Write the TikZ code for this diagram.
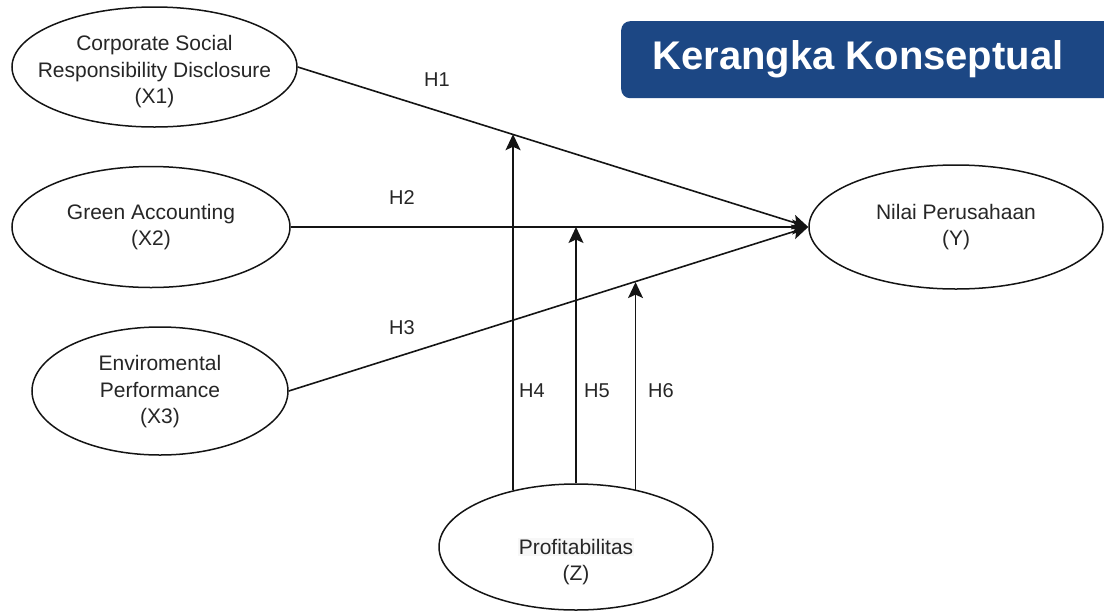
\documentclass[tikz,border=0pt]{standalone}
\usepackage{fontspec}
\setmainfont{Liberation Sans}
\usetikzlibrary{shapes.geometric,arrows.meta,calc}
\definecolor{kblue}{RGB}{28,71,132}
\definecolor{txtgray}{RGB}{38,38,38}
\definecolor{linegray}{RGB}{20,20,20}
\definecolor{labelbg}{RGB}{247,247,247}
\begin{document}
\begin{tikzpicture}[x=1pt,y=-1pt,
  var/.style={ellipse,draw=linegray,line width=1.5pt,inner sep=0pt,fill=white},
  vtext/.style={text=txtgray,align=center,font=\fontsize{21}{26.5}\selectfont,inner sep=0pt},
  hlabel/.style={text=txtgray,font=\fontsize{20}{24}\selectfont,inner sep=0pt},
  arr/.style={draw=linegray,line width=1.6pt,-{Stealth[length=16pt,width=15pt,inset=3.5pt]}}
]
\useasboundingbox (0,0) rectangle (1104,611);
\fill[white] (0,0) rectangle (1104,611);

% title
\node (titlebox) [fill=kblue,rounded corners=9pt,minimum width=500pt,minimum height=77pt,inner sep=0pt,anchor=north west] at (621,21) {};
\node (titletext) [anchor=base,text=white,font=\fontsize{40}{44}\selectfont\bfseries,inner sep=0pt] at (858,69.5) {Kerangka Konseptual};

% variables
\node (X1) [var,minimum width=285pt,minimum height=120pt] at (154.5,67) {};
\node (X2) [var,minimum width=278pt,minimum height=121pt] at (151,227) {};
\node (X3) [var,minimum width=256pt,minimum height=128pt] at (160,391) {};
\node (Y)  [var,minimum width=294pt,minimum height=124pt] at (956,227) {};
\node (Z)  [var,minimum width=274pt,minimum height=126pt] at (576,547) {};

\node (tX1) [vtext] at (154.5,72) {Corporate Social\\Responsibility Disclosure\\(X1)};
\node (tX2) [vtext] at (151,227) {Green Accounting\\(X2)};
\node (tX3) [vtext] at (160,392) {Enviromental\\Performance\\(X3)};
\node (tY)  [vtext] at (956,227) {Nilai Perusahaan\\(Y)};
\node (tZa) [vtext,fill=labelbg,inner sep=1pt] at (576,547) {Profitabilitas};
\node (tZb) [vtext] at (576,575) {(Z)};

% main paths
\draw[arr] (X1.east) -- (Y.west) coordinate[pos=0.42] (t4);
\draw[arr] (X2.east) -- (Y.west) coordinate[pos=0.553] (t5);
\draw[arr] (X3.east) -- (Y.west) coordinate[pos=0.664] (t6);

% moderation paths
\draw[arr] (Z.138.8) -- (Z.138.8 |- t4);
\draw[arr] (Z.north) -- (Z.north |- t5);
\draw[arr] (Z.44.5) -- (Z.44.5 |- t6);

% labels
\node (H1) [hlabel] at (437,80) {H1};
\node (H2) [hlabel] at (402,198) {H2};
\node (H3) [hlabel] at (402,328) {H3};
\node (H4) [hlabel] at (532,391) {H4};
\node (H5) [hlabel] at (597,391) {H5};
\node (H6) [hlabel] at (661,391) {H6};
\end{tikzpicture}
\end{document}
